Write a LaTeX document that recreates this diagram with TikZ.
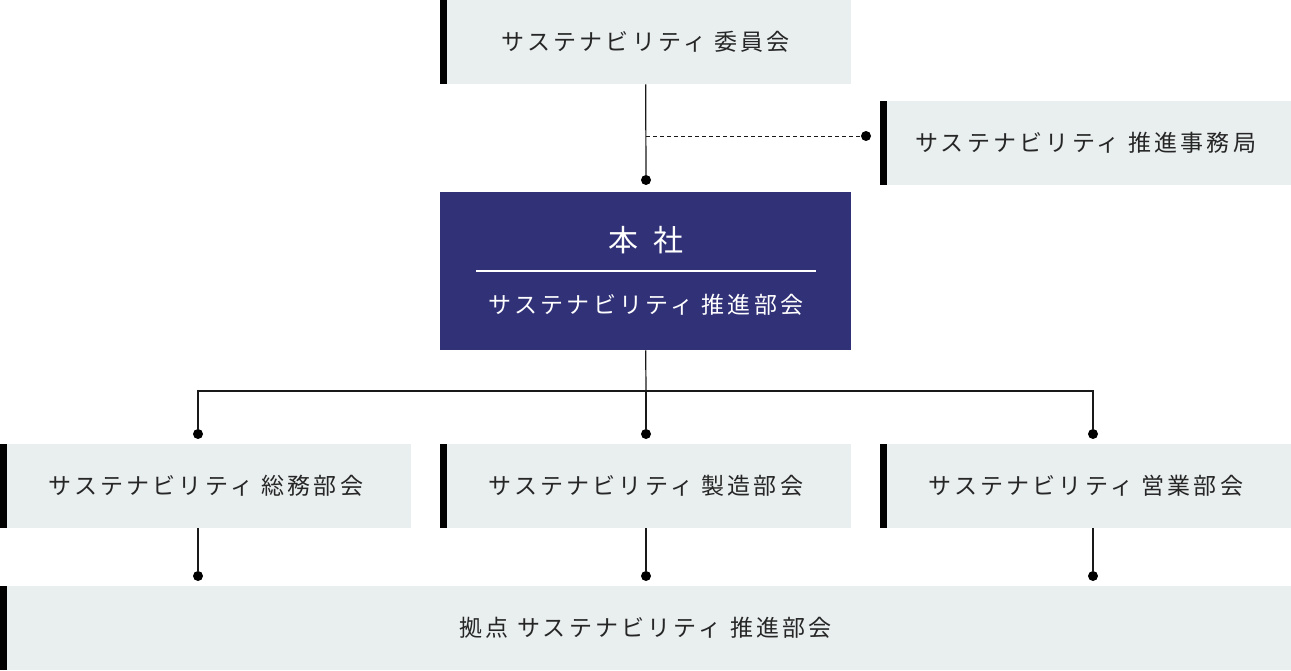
\documentclass[tikz,border=0pt]{standalone}
\usepackage{fontspec}
\setmainfont[LetterSpace=14]{Noto Sans CJK JP}
\begin{document}
\begin{tikzpicture}[x=1pt,y=-1pt,
  box/.style={fill=boxg,draw=none,minimum height=84pt,inner sep=0pt,font=\fontsize{23}{24}\selectfont,text=black!85},
  ln/.style={line width=1.2pt,black!90},
  dot/.style={circle,fill=black,inner sep=0pt,minimum size=10pt}]
\definecolor{boxg}{HTML}{E9EEEE}
\definecolor{navy}{HTML}{313178}
\useasboundingbox (0,0) rectangle (1291,671);
\node[box,minimum width=411pt,anchor=north west] (com) at (440,0) {サステナビリティ 委員会};
\node[box,minimum width=411pt,anchor=north west] (sec) at (880,101) {サステナビリティ 推進事務局};
\node[fill=navy,minimum width=411pt,minimum height=158pt,inner sep=0pt,anchor=north west] (hq) at (440,192) {};
\node[text=white,font=\fontsize{30}{30}\selectfont] (hqt) at (646,240) {本\hspace{0.5em}社};
\node[text=white,font=\fontsize{23}{24}\selectfont] (hqs) at (646,305) {サステナビリティ 推進部会};
\coordinate (hl1) at (476,271); \coordinate (hl2) at (816,271);
\draw[white,line width=1.2pt] (hl1) -- (hl2);
\node[box,minimum width=411pt,anchor=north west] (b1) at (0,444) {サステナビリティ 総務部会};
\node[box,minimum width=411pt,anchor=north west] (b2) at (440,444) {サステナビリティ 製造部会};
\node[box,minimum width=411pt,anchor=north west] (b3) at (880,444) {サステナビリティ 営業部会};
\node[box,minimum width=1291pt,anchor=north west] (bot) at (0,586) {拠点 サステナビリティ 推進部会};
\foreach \n in {com,sec,b1,b2,b3,bot}{\fill[black] (\n.north west) rectangle ([xshift=7pt]\n.south west);}
\node[dot] (d0) at (646,180) {};
\draw[ln] (com.south) -- (d0);
\coordinate (ds) at (646,136);
\node[dot] (d1) at (866,136) {};
\draw[ln,dashed,line width=0.8pt,dash pattern=on 4pt off 3pt] (ds) -- (d1);
\coordinate (j) at (646,391);
\node[dot] (e1) at (198,434) {};
\node[dot] (e2) at (646,434) {};
\node[dot] (e3) at (1093,434) {};
\draw[ln] (hq.south) -- (j);
\draw[ln] (e1) |- (j) -| (e3);
\draw[ln] (j) -- (e2);
\node[dot] (f1) at (198,576) {};
\node[dot] (f2) at (646,576) {};
\node[dot] (f3) at (1093,576) {};
\draw[ln] (b1.south -| f1) -- (f1);
\draw[ln] (b2.south -| f2) -- (f2);
\draw[ln] (b3.south -| f3) -- (f3);
\end{tikzpicture}
\end{document}
